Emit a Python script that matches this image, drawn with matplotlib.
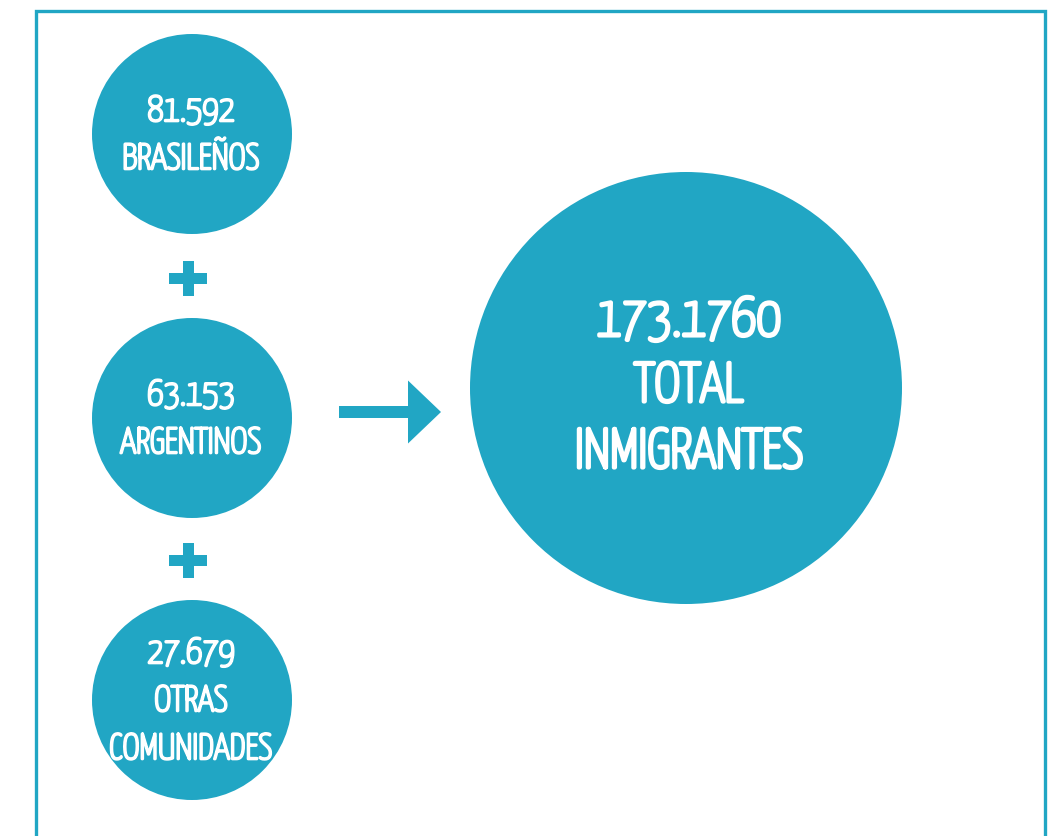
import matplotlib
matplotlib.use('Agg')
import matplotlib.pyplot as plt
import matplotlib.patheffects as pe
from matplotlib.patches import Circle, Rectangle, FancyArrow

# data
counts = ['81.592', '63.153', '27.679']
groups = [['BRASILEÑOS'], ['ARGENTINOS'], ['OTRAS', 'COMUNIDADES']]
total_value = '173.1760'
total_label = ['TOTAL', 'INMIGRANTES']

TEAL = '#21a6c4'
FONT = ['Yanone Kaffeesatz', 'DejaVu Sans']

fig = plt.figure(figsize=(10.56, 8.36), dpi=100)
ax = fig.add_axes([0, 0, 1, 1])
ax.set_xlim(0, 1056)
ax.set_ylim(836, 0)
ax.axis('off')

# frame (bottom edge runs off the picture)
ax.plot([35.5, 35.5, 1045, 1045], [840, 10.5, 10.5, 840], color=TEAL, lw=2.4,
        solid_joinstyle='miter')

# thin variable font -> thicken the strokes to look bold
bold_small = [pe.withStroke(linewidth=1.9, foreground='white')]
bold_big = [pe.withStroke(linewidth=2.8, foreground='white')]

small_y = [134, 418, 700]
for cy, num, lab in zip(small_y, counts, groups):
    ax.add_patch(Circle((192, cy), 100, color=TEAL, lw=0))
    lines = [num] + lab
    top = cy - 24 * (len(lines) - 1)
    for i, s in enumerate(lines):
        ax.text(191, top + 1 + 48 * i, s, ha='center', va='center', color='white',
                fontsize=26, fontweight='bold', family=FONT,
                path_effects=bold_small)

# plus signs between circles
for py in [278, 560]:
    ax.add_patch(Rectangle((169, py - 5.5), 38, 11, color=TEAL, lw=0))
    ax.add_patch(Rectangle((182.5, py - 17.5), 11, 35, color=TEAL, lw=0))

# arrow
ax.add_patch(FancyArrow(339, 412, 102, 0, width=12, head_width=63,
                        head_length=33, length_includes_head=True,
                        color=TEAL, lw=0))

ax.add_patch(Circle((686, 388), 216, color=TEAL, lw=0))
big = [total_value] + total_label
for i, s in enumerate(big):
    ax.text(689, 321 + 66 * i, s, ha='center', va='center', color='white',
            fontsize=40, fontweight='bold', family=FONT,
            path_effects=bold_big)

fig.savefig('out.png', dpi=100)
